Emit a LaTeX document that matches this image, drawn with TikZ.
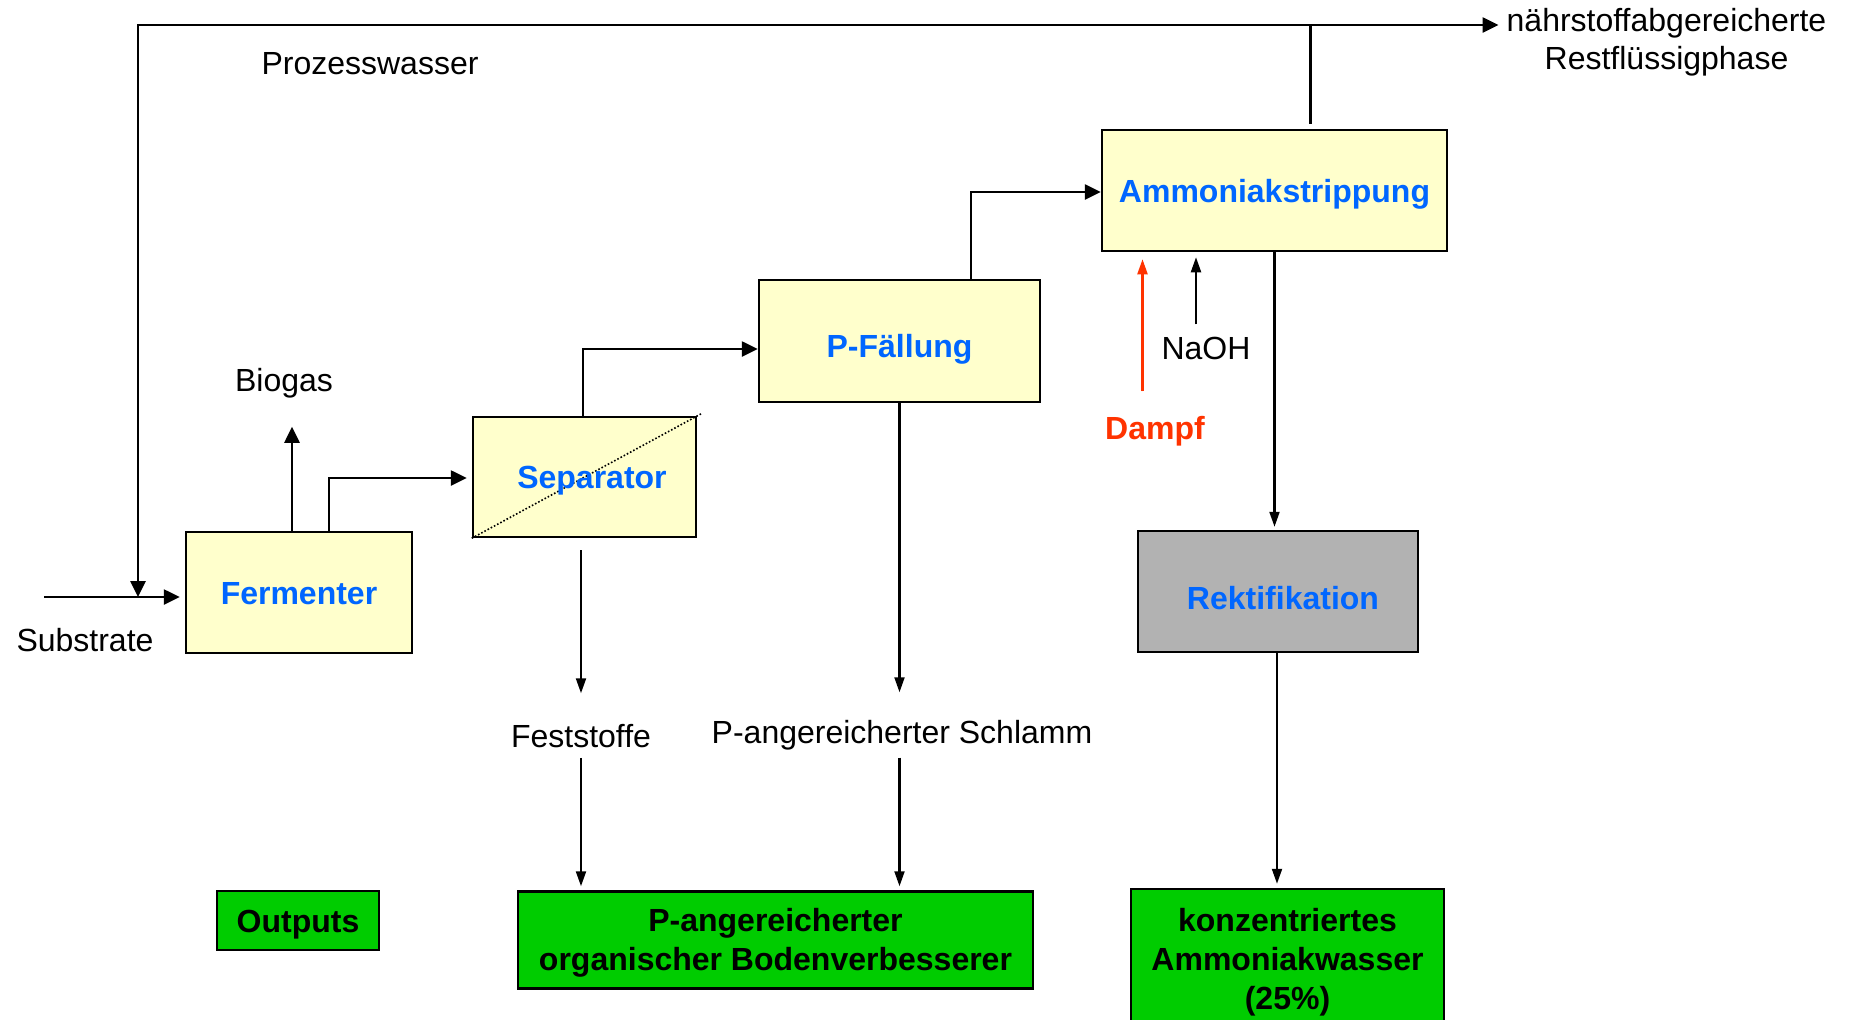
\documentclass[tikz,border=0pt]{standalone}
\usepackage{fontspec}
\setmainfont{Liberation Sans}
\usetikzlibrary{arrows.meta,calc}
\definecolor{boxyellow}{HTML}{FFFFCC}
\definecolor{procblue}{HTML}{0066FF}
\definecolor{outgreen}{HTML}{00CC00}
\definecolor{rektgray}{HTML}{B2B2B2}
\definecolor{steamred}{HTML}{FF3300}
\begin{document}
\begin{tikzpicture}[x=1pt,y=-1pt,
  lbl/.style={font=\fontsize{32}{38}\selectfont, inner sep=0pt},
  procbox/.style={draw=black, line width=2.5pt, fill=boxyellow, inner sep=0pt},
  proctext/.style={inner sep=0pt, font=\fontsize{32}{37}\selectfont\bfseries, text=procblue},
  outbox/.style={draw=black, line width=2.5pt, fill=outgreen, inner sep=0pt},
  outtext/.style={inner sep=0pt, align=center, font=\fontsize{32}{39}\selectfont\bfseries, text=black},
  thickarr/.style={line width=2.6pt, line cap=rect, -{Triangle[length=16pt,width=15pt]}},
  thinarr/.style={line width=2.1pt, -{Triangle[length=15pt,width=10pt]}},
  thinline/.style={line width=2.1pt},
]
\useasboundingbox (0,0) rectangle (1856,1020);

% process boxes
\node[procbox, minimum width=226pt, minimum height=121pt] (ferm) at (299,592.5) {};
\node[proctext] (fermt) at (299,593.5) {Fermenter};
\node[procbox, minimum width=223pt, minimum height=120pt] (sep) at (584.5,477) {};
\draw[line width=1.6pt, dotted] (sep.south west) -- ($(sep.north east)+(4,-2)$);
\node[proctext] (sept) at (592,481) {Separator};
\node[procbox, minimum width=281pt, minimum height=122pt] (pf) at (899.5,341) {};
\node[proctext] (pft) at (899.5,349) {P-Fällung};
\node[procbox, minimum width=345pt, minimum height=121pt] (amm) at (1274.5,190.5) {};
\node[proctext] (ammt) at (1274.5,194) {Ammoniakstrippung};
\node[procbox, fill=rektgray, minimum width=280pt, minimum height=121pt] (rekt) at (1278,591.5) {};
\node[proctext] (rektt) at (1283,598.5) {Rektifikation};

% outputs
\node[outbox, minimum width=162pt, minimum height=59pt] (outp) at (298,920.5) {};
\node[outtext] (outpt) at (298,925) {Outputs};
\node[outbox, minimum width=515pt, minimum height=97pt] (pboden) at (775.5,940) {};
\node[outtext] (pbodent) at (775.5,943) {P-angereicherter\\organischer Bodenverbesserer};
\node[outbox, minimum width=313pt, minimum height=136pt] (ammw) at (1287.5,957) {};
\node[outtext] (ammwt) at (1287.5,962) {konzentriertes\\Ammoniakwasser\\(25\%)};

% labels
\node[lbl] (pw) at (370,64) {Prozesswasser};
\node[lbl, align=center] (rest) at (1666.5,42) {nährstoffabgereicherte\\Restflüssigphase};
\node[lbl] (bio) at (284,383.5) {Biogas};
\node[lbl] (subs) at (85,640) {Substrate};
\node[lbl] (naoh) at (1206,348) {NaOH};
\node[lbl, font=\fontsize{32}{37}\selectfont\bfseries, text=steamred] (dampf) at (1155,431.5) {Dampf};
\node[lbl] (fest) at (581,736) {Feststoffe};
\node[lbl] (schl) at (902,735.5) {P-angereicherter Schlamm};

% coordinates
\coordinate (subin) at (45,597);
\coordinate (pwL) at (138,25);
\coordinate (pwT) at (1310.5,25);

% process water loop
\draw[thickarr] (pwL) -- ($(pwL -| rest.west)+(-8,0)$);
\draw[thickarr] (pwL) -- (pwL |- subin);
\draw[thinline] ($(amm.north -| pwT)+(0,-5)$) -- (pwT);

% substrate in
\draw[thickarr] (subin) -- ($(subin -| ferm.west)+(-5,0)$);

% biogas
\draw[thickarr] ($(ferm.north)+(-7,0)$) -- ++(0,-104);

% fermenter -> separator
\draw[thickarr] ($(ferm.north)+(30,0)$) |- ($(sep.west)+(-5,1)$);

% separator -> P-Faellung
\draw[thickarr] ($(sep.north)+(-1.5,0)$) |- ($(pf.west)+(0,8)$);

% P-Faellung -> Ammoniakstrippung
\draw[thickarr] ($(pf.north)+(71.5,0)$) |- ($(amm.west)+(0,1.5)$);

% separator -> Feststoffe -> Bodenverbesserer
\draw[thinarr] (sep.south -| fest) ++(0,12) -- ++(0,143);
\draw[thinarr] (fest.south) ++(0,10) -- ($(fest.south |- pboden.north)+(0,-4)$);

% P-Faellung -> Schlamm -> Bodenverbesserer
\draw[thinarr] (pf.south) -- ++(0,289);
\draw[thinarr] (pf.south |- schl.south) ++(0,7) -- ($(pf.south |- pboden.north)+(0,-4)$);

% Ammoniakstrippung -> Rektifikation -> Ammoniakwasser
\draw[thinarr] (amm.south) -- ($(amm.south |- rekt.north)+(0,-3)$);
\draw[thinarr] ($(rekt.south)+(-1,0)$) -- ($(rekt.south |- ammw.north)+(-1,-4)$);

% Dampf and NaOH
\draw[thinarr, draw=steamred, fill=steamred] ($(amm.south)+(-132,139)$) -- ++(0,-132);
\draw[thinarr] ($(amm.south)+(-78.5,72)$) -- ++(0,-67);
\end{tikzpicture}
\end{document}
